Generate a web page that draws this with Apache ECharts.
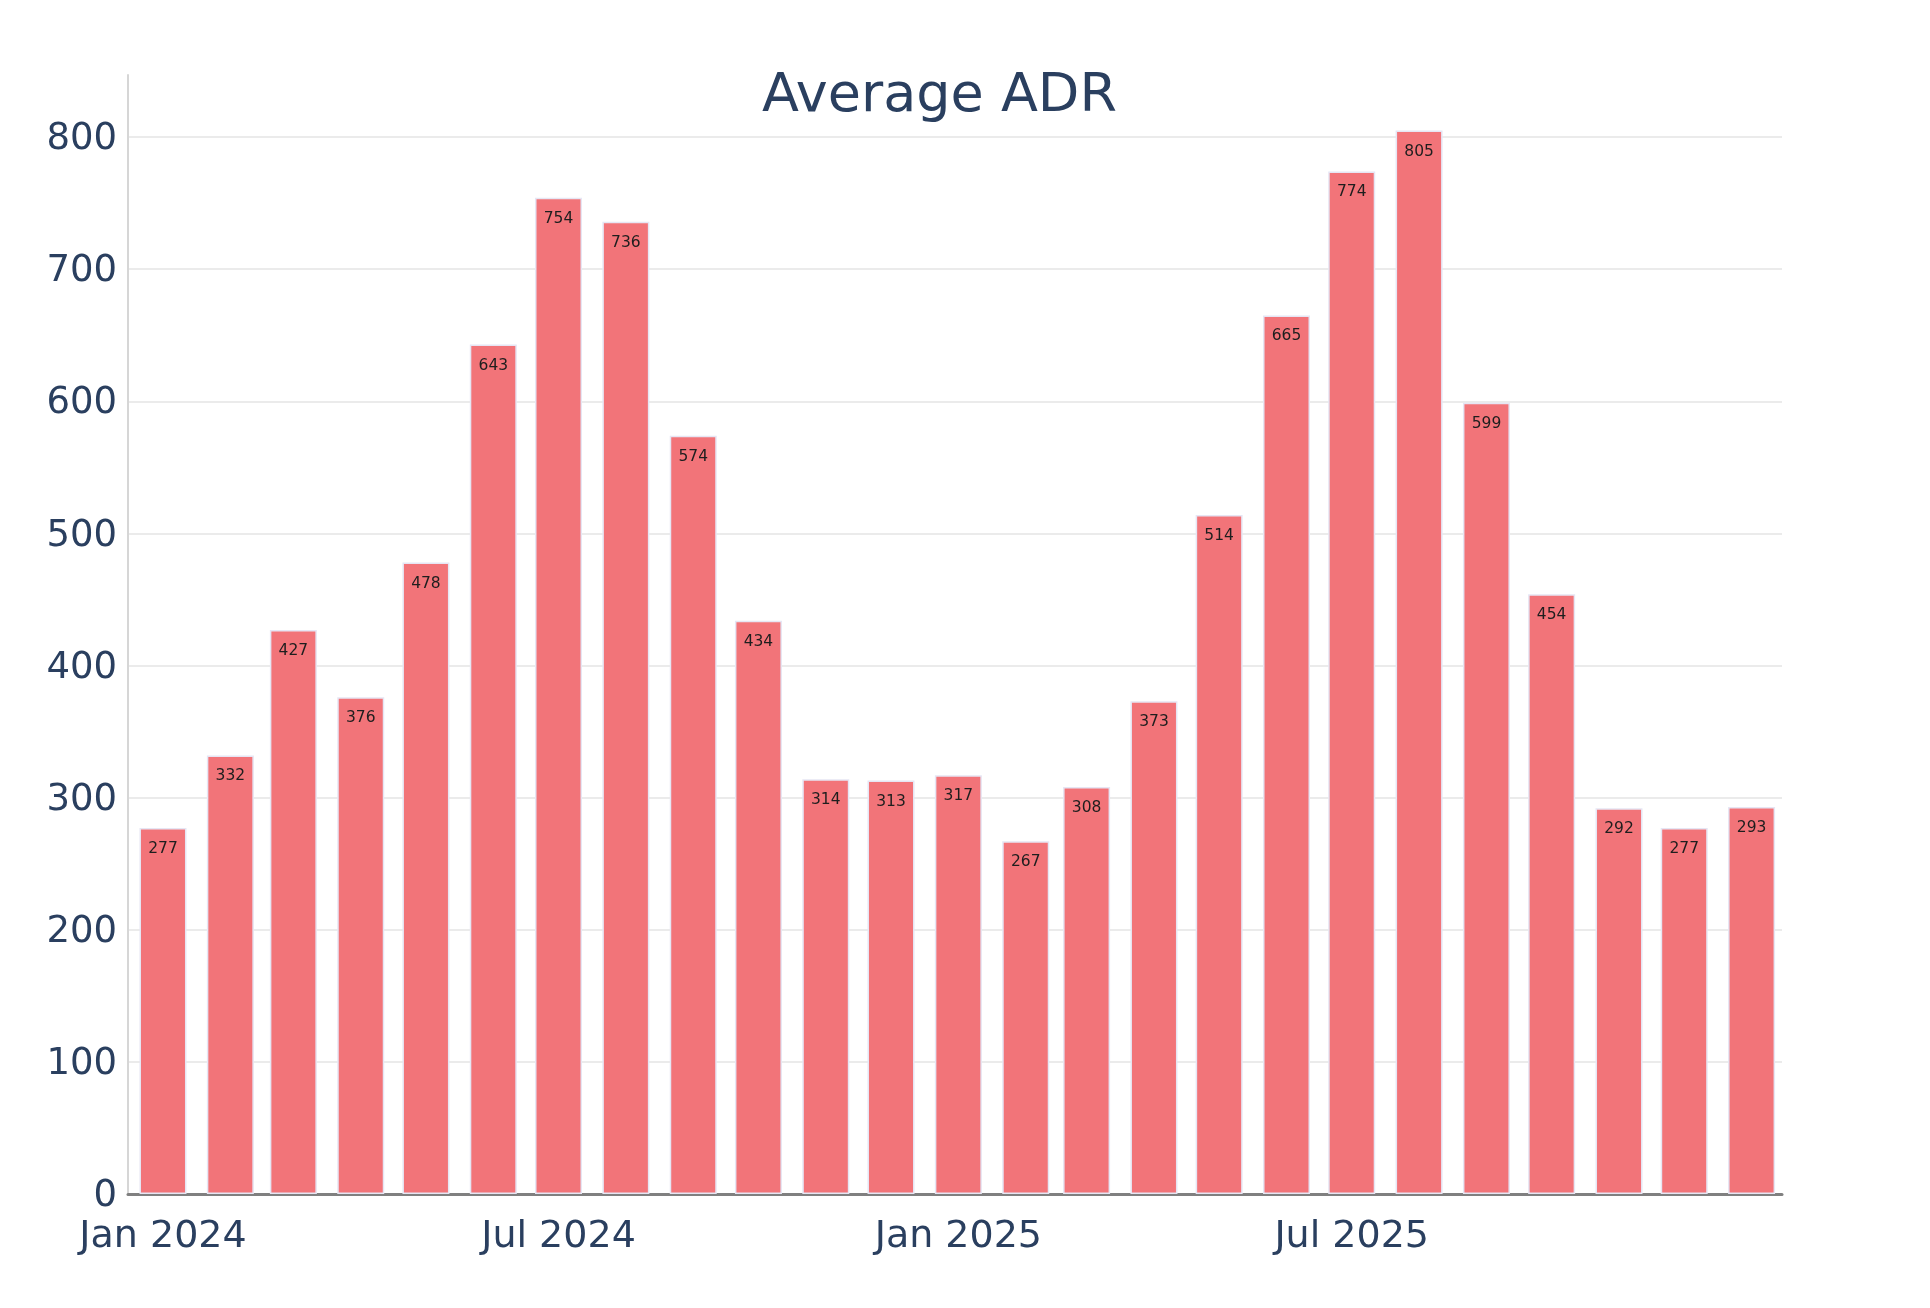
<!DOCTYPE html>
<html>
<head>
<meta charset="utf-8">
<script src="https://cdn.jsdelivr.net/npm/echarts@6/dist/echarts.min.js"></script>
<style>
  html, body { margin: 0; padding: 0; background: #ffffff; }
  #chart { width: 1930px; height: 1308px; }
</style>
</head>
<body>
<div id="chart"></div>
<script>
// ---- data ----
const months = [
  '2024-01-01','2024-02-01','2024-03-01','2024-04-01','2024-05-01','2024-06-01',
  '2024-07-01','2024-08-01','2024-09-01','2024-10-01','2024-11-01','2024-12-01',
  '2025-01-01','2025-02-01','2025-03-01','2025-04-01','2025-05-01','2025-06-01',
  '2025-07-01','2025-08-01','2025-09-01','2025-10-01','2025-11-01','2025-12-01',
  '2026-01-01'
];
const adr = [
  277, 332, 427, 376, 478, 643,
  754, 736, 574, 434, 314, 313,
  317, 267, 308, 373, 514, 665,
  774, 805, 599, 454, 292, 277,
  293
];
const xTickDates = ['2024-01-01', '2024-07-01', '2025-01-01', '2025-07-01'];
const xTickLabels = ['Jan 2024', 'Jul 2024', 'Jan 2025', 'Jul 2025'];
const yTicks = [0, 100, 200, 300, 400, 500, 600, 700, 800];
const title = 'Average ADR';

// ---- helpers ----
function ts(s) {
  const p = s.split('-').map(Number);
  return Date.UTC(p[0], p[1] - 1, p[2]);
}
const DAY = 86400000;
const xTickValues = xTickDates.map(ts);
const seriesData = months.map((m, i) => [ts(m), adr[i]]);

const textColor = '#2a3f5f';
const font = 'DejaVu Sans';

const chart = echarts.init(document.getElementById('chart'), null, { renderer: 'canvas' });
chart.setOption({
  backgroundColor: '#ffffff',
  animation: false,
  title: {
    text: title,
    left: 762,
    top: 70,
    padding: 0,
    textStyle: { fontFamily: font, fontSize: 54, fontWeight: 'normal', color: textColor }
  },
  grid: { left: 128, right: 148, top: 75, bottom: 114, containLabel: false },
  xAxis: {
    type: 'value',
    min: ts(months[0]) - 16.1 * DAY,
    max: ts(months[months.length - 1]) + 14 * DAY,
    offset: 4,
    axisLine: { show: true, lineStyle: { color: '#808080', width: 3 } },
    axisTick: { show: false, customValues: xTickValues },
    splitLine: { show: false },
    axisLabel: {
      customValues: xTickValues,
      fontFamily: font,
      fontSize: 38,
      color: textColor,
      margin: 20,
      formatter: function (v) {
        const i = xTickValues.indexOf(v);
        return i >= 0 ? xTickLabels[i] : '';
      }
    }
  },
  yAxis: {
    type: 'value',
    min: 0,
    max: 847,
    axisLine: { show: true, lineStyle: { color: '#d6d6d6', width: 2 } },
    axisTick: { show: false, customValues: yTicks },
    splitLine: { show: true, lineStyle: { color: '#ebebeb', width: 2 } },
    axisLabel: {
      customValues: yTicks,
      fontFamily: font,
      fontSize: 37,
      color: textColor,
      margin: 11,
      verticalAlign: 'top',
      lineHeight: 5
    }
  },
  series: [{
    type: 'bar',
    data: seriesData,
    barWidth: 47,
    itemStyle: {
      color: '#f27479',
      borderColor: '#e6e6f4',
      borderWidth: 1.5
    },
    label: {
      show: true,
      position: 'insideTop',
      distance: 13,
      fontFamily: font,
      fontSize: 15.5,
      color: '#1e1e1e',
      formatter: function (p) { return String(p.value[1]); }
    }
  }]
});
</script>
</body>
</html>
